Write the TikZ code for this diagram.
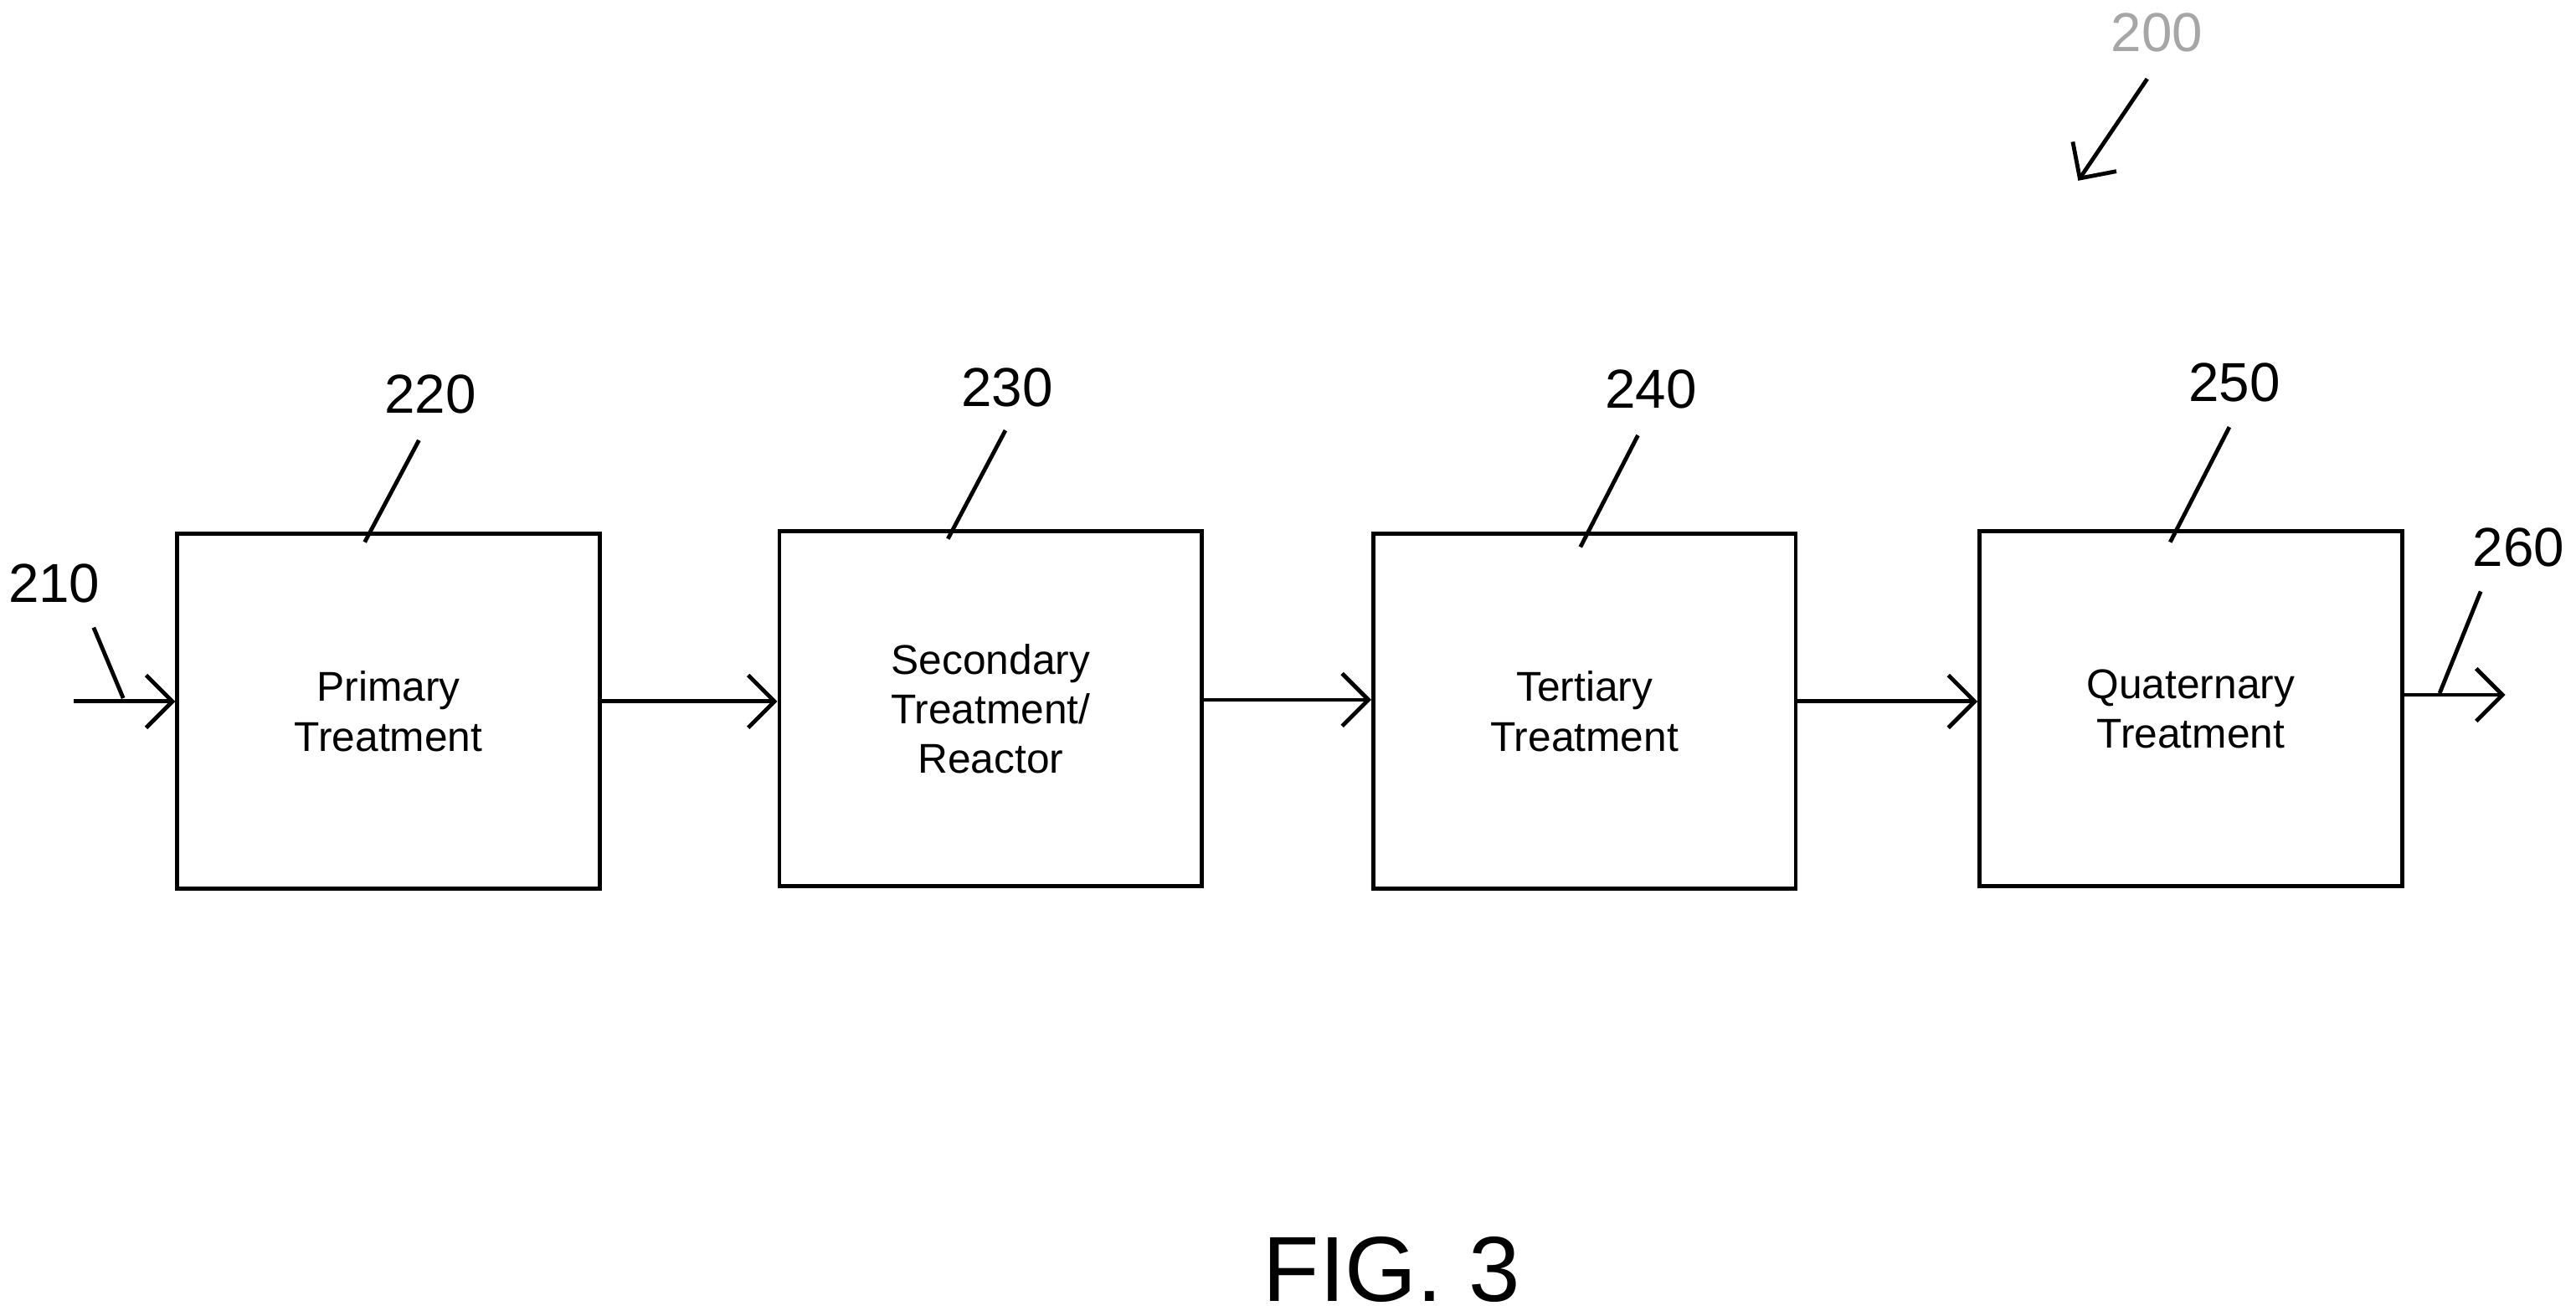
\documentclass[tikz,border=0pt]{standalone}
\usepackage{fontspec}
\setmainfont{Liberation Sans}
\usetikzlibrary{arrows.meta}
\tikzstyle{stage} = [rectangle, draw=black, line width=0.7pt, minimum width=2.57cm, minimum height=2.16cm, align=center, font=\fontsize{7.2}{8.6}\selectfont, inner sep=0pt]
\tikzstyle{flow} = [line width=0.7pt, -{Straight Barb[length=1.6mm, width=3.2mm]}]
\tikzstyle{leader} = [line width=0.7pt]
\tikzstyle{num} = [font=\fontsize{9.5}{11}\selectfont, inner sep=0pt]

\begin{document}
\begin{tikzpicture}[x=0.01cm, y=-0.01cm]

    \useasboundingbox (0, 0) rectangle (1568, 801);

    \node (primary) [stage] at (236.5, 433) {Primary\\Treatment};
    \node (secondary) [stage] at (603, 431.5) {Secondary\\Treatment/\\Reactor};
    \node (tertiary) [stage] at (964.5, 433) {Tertiary\\Treatment};
    \node (quaternary) [stage] at (1333.5, 431.5) {Quaternary\\Treatment};

    \coordinate (inlet) at (45, 427);
    \coordinate (outlet) at (1525, 423);

    \draw [flow] (inlet) -- (inlet -| primary.west);
    \draw [flow] (primary.east |- 0, 427) -- (secondary.west |- 0, 427);
    \draw [flow] (secondary.east |- 0, 426) -- (tertiary.west |- 0, 426);
    \draw [flow] (tertiary.east |- 0, 427) -- (quaternary.west |- 0, 427);
    \draw [flow] (outlet -| quaternary.east) -- (outlet);

    \node (n210) [num] at (33, 355) {210};
    \node (n220) [num] at (262, 240) {220};
    \node (n230) [num] at (613, 236) {230};
    \node (n240) [num] at (1005, 237) {240};
    \node (n250) [num] at (1360, 233) {250};
    \node (n260) [num] at (1533, 333) {260};
    \node (n200) [num, text=gray!70] at (1313, 20) {200};

    \draw [leader] (222, 330) -- (255, 268);
    \draw [leader] (577, 328) -- (612, 262);
    \draw [leader] (962, 333) -- (997, 265);
    \draw [leader] (1321, 330) -- (1357, 260);
    \draw [leader] (57, 382) -- (75, 425);
    \draw [leader] (1485, 422) -- (1510, 360);
    \draw [flow] (1307, 48) -- (1265, 110);

    \node (fig) [font=\fontsize{16}{19}\selectfont] at (847, 773) {FIG. 3};

\end{tikzpicture}
\end{document}
